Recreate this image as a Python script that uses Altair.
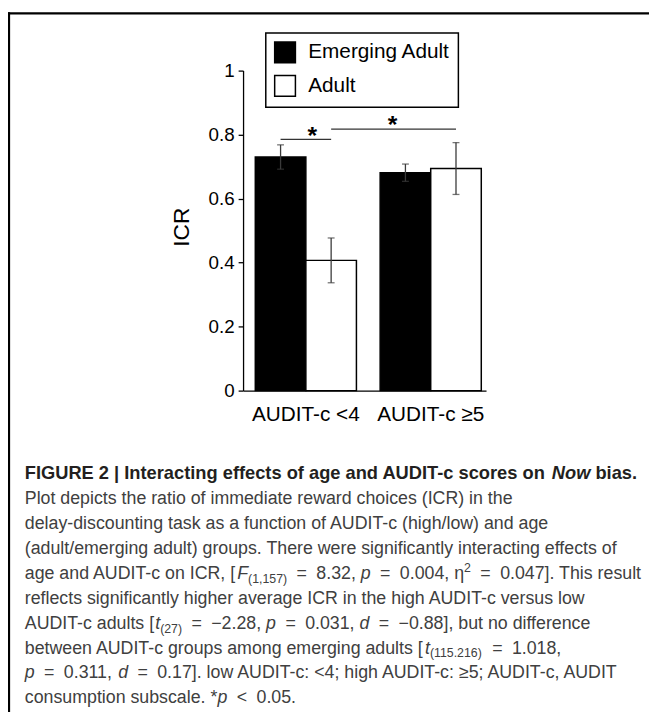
import re
import altair as alt
import pandas as pd

# ---------------- data ----------------
groups = ["AUDIT-c <4", "AUDIT-c ≥5"]
ages = ["Emerging Adult", "Adult"]
emerging_icr = [0.730, 0.681]
adult_icr = [0.407, 0.694]
emerging_err = [0.038, 0.027]
adult_err = [0.070, 0.081]
y_ticks = [0, 0.2, 0.4, 0.6, 0.8, 1]

# significance brackets (endpoints at bar centres)
bracket_id = ["b1", "b1", "b2", "b2"]
bracket_group = ["AUDIT-c <4", "AUDIT-c <4", "AUDIT-c <4", "AUDIT-c ≥5"]
bracket_age = ["Emerging Adult", "Adult", "Adult", "Adult"]
bracket_y = [0.785, 0.785, 0.817, 0.817]
star_group = ["AUDIT-c <4", "AUDIT-c ≥5"]
star_age = ["Adult", "Emerging Adult"]
star_y = [0.812, 0.845]

# caption: (text, style) runs; b=bold, bi=bold italic, n=normal, i=italic,
# sub=subscript, sup=superscript
caption_head = [("FIGURE 2 | Interacting effects of age and AUDIT-c scores on ", "b"),
                ("Now", "bi"), (" bias.", "b")]
caption_lines = [
    [("Plot depicts the ratio of immediate reward choices (ICR) in the", "n")],
    [("delay-discounting task as a function of AUDIT-c (high/low) and age", "n")],
    [("(adult/emerging adult) groups. There were significantly interacting effects of", "n")],
    [("age and AUDIT-c on ICR, [", "n"), ("F", "i"), ("(1,157)", "sub"),
     (" = 8.32, ", "n"), ("p", "i"), (" = 0.004, η", "n"), ("2", "sup"),
     (" = 0.047]. This result", "n")],
    [("reflects significantly higher average ICR in the high AUDIT-c versus low", "n")],
    [("AUDIT-c adults [", "n"), ("t", "i"), ("(27)", "sub"), (" = −2.28, ", "n"),
     ("p", "i"), (" = 0.031, ", "n"), ("d", "i"), (" = −0.88], but no difference", "n")],
    [("between AUDIT-c groups among emerging adults [", "n"), ("t", "i"),
     ("(115.216)", "sub"), (" = 1.018,", "n")],
    [("p", "i"), (" = 0.311, ", "n"), ("d", "i"),
     (" = 0.17]. low AUDIT-c: <4; high AUDIT-c: ≥5; AUDIT-c, AUDIT", "n")],
    [("consumption subscale. *", "n"), ("p", "i"), (" < 0.05.", "n")],
]

# ---------------- font metrics (Arial / Liberation Sans, per 1000 em) ----------
REG = {" ": 278, "!": 278, "(": 333, ")": 333, "*": 389, "+": 584, ",": 278, "-": 333,
       ".": 278, "/": 278, ":": 278, ";": 278, "<": 584, "=": 584, ">": 584, "[": 278,
       "]": 278, "|": 260, "−": 584, "η": 556, "≥": 549, "²": 333,
       "A": 667, "B": 667, "C": 722, "D": 722, "E": 667, "F": 611, "G": 778, "H": 722,
       "I": 278, "J": 500, "K": 667, "L": 556, "M": 833, "N": 722, "O": 778, "P": 667,
       "Q": 778, "R": 722, "S": 667, "T": 611, "U": 722, "V": 667, "W": 944, "X": 667,
       "Y": 667, "Z": 611,
       "a": 556, "b": 556, "c": 500, "d": 556, "e": 556, "f": 278, "g": 556, "h": 556,
       "i": 222, "j": 222, "k": 500, "l": 222, "m": 833, "n": 556, "o": 556, "p": 556,
       "q": 556, "r": 333, "s": 500, "t": 278, "u": 556, "v": 500, "w": 722, "x": 500,
       "y": 500, "z": 500}
BOLD = {" ": 278, "|": 280, "-": 333, ".": 278, "A": 722, "D": 722, "E": 667, "F": 611,
        "G": 778, "I": 278, "N": 722, "R": 722, "T": 611, "U": 722, "a": 556, "b": 611,
        "c": 556, "d": 611, "e": 556, "f": 333, "g": 611, "i": 278, "n": 611, "o": 611,
        "r": 389, "s": 556, "t": 333, "w": 778}


def width(s, size, table):
    return sum(table.get(ch, 556) for ch in s) * size / 1000.0


# ---------------- tables ----------------
rows = []
for i, g in enumerate(groups):
    for age, vals, errs in [("Emerging Adult", emerging_icr, emerging_err),
                            ("Adult", adult_icr, adult_err)]:
        rows.append({"group": g, "age": age, "icr": vals[i],
                     "lo": vals[i] - errs[i], "hi": vals[i] + errs[i]})
df = pd.DataFrame(rows)
bdf = pd.DataFrame({"bracket": bracket_id, "group": bracket_group,
                    "age": bracket_age, "y": bracket_y})
sdf = pd.DataFrame({"group": star_group, "age": star_age, "y": star_y,
                    "star": ["s1", "s2"]})
one = pd.DataFrame({"k": [1]})

# caption layout (pixels relative to the plot origin)
CAP_X0 = -221
HEAD_Y = 413
BODY_Y0 = 439
LINE_H = 25.2
HEAD_SIZE = 18.5
BODY_SIZE = 18
SMALL_SIZE = 12.5
REL_EXTRA = 9          # extra math spacing around "=" and "<"
style_size = {"b": HEAD_SIZE, "bi": HEAD_SIZE, "n": BODY_SIZE, "i": BODY_SIZE,
              "sub": SMALL_SIZE, "sup": SMALL_SIZE}
style_dy = {"b": 0, "bi": 0, "n": 0, "i": 0, "sub": 4, "sup": -7}

cap_rows = []


def lay_out(runs, y):
    x = CAP_X0
    for txt, sty in runs:
        size = style_size[sty]
        table = BOLD if sty in ("b", "bi") else REG
        pieces = re.split(r"( [=<] )", txt) if sty == "n" else [txt]
        for piece in pieces:
            if piece == "":
                continue
            if re.fullmatch(r" [=<] ", piece):
                adv = width(piece, size, table) + REL_EXTRA
                sym = piece.strip()
                cap_rows.append({"t": sym,
                                 "px": x + (adv - width(sym, size, table)) / 2,
                                 "py": y + style_dy[sty], "sty": sty})
                x += adv
                continue
            lead = len(piece) - len(piece.lstrip(" "))
            if piece.strip(" "):
                cap_rows.append({"t": piece.strip(" "),
                                 "px": x + width(" " * lead, size, table),
                                 "py": y + style_dy[sty], "sty": sty})
            x += width(piece, size, table)


lay_out(caption_head, HEAD_Y)
for li, runs in enumerate(caption_lines):
    lay_out(runs, BODY_Y0 + li * LINE_H)
capdf = pd.DataFrame(cap_rows)

FONT = "Liberation Sans"

x_main = alt.X("group:N", sort=groups, title=None,
               scale=alt.Scale(paddingInner=0.19, paddingOuter=0.068, align=0.72),
               axis=alt.Axis(labelAngle=0, ticks=False, labelPadding=13,
                             labelFontSize=21, labelFont=FONT, labelColor="black",
                             domainColor="black", domainWidth=1.3))
x_plain = alt.X("group:N", sort=groups, title=None)
xoff = alt.XOffset("age:N", sort=ages, scale=alt.Scale(paddingInner=0, paddingOuter=0))

y_main = alt.Y("icr:Q", title="ICR",
               scale=alt.Scale(domain=[0, 1], nice=False),
               axis=alt.Axis(values=y_ticks, format="~g", grid=False,
                             labelFontSize=19, labelFont=FONT, labelColor="black",
                             labelPadding=4, tickSize=5, tickColor="black",
                             tickWidth=1.3, domainColor="black", domainWidth=1.3,
                             titleFontSize=23, titleFont=FONT,
                             titleFontWeight="normal", titleColor="black",
                             titleX=-62, titleY=158, titleAngle=270,
                             titleBaseline="middle", titleAlign="center"))

color = alt.Color("age:N", sort=ages,
                  scale=alt.Scale(domain=ages, range=["black", "white"]),
                  legend=alt.Legend(title=None, orient="none", legendX=23, legendY=-38,
                                    direction="vertical", symbolType="square",
                                    symbolSize=441, symbolStrokeColor="black",
                                    symbolStrokeWidth=1.5, symbolOpacity=1,
                                    labelFontSize=21, labelFont=FONT,
                                    labelColor="black", rowPadding=7, padding=8,
                                    labelOffset=12, strokeColor="black"))

bars = alt.Chart(df).mark_bar(stroke="black", strokeWidth=1.5).encode(
    x=x_main, xOffset=xoff, y=y_main, color=color)

err_color = "#3a3a3a"
err_rule = alt.Chart(df).mark_rule(color=err_color, strokeWidth=1.3).encode(
    x=x_plain, xOffset=xoff, y=alt.Y("lo:Q", title="ICR"), y2="hi:Q")
cap_hi = alt.Chart(df).mark_tick(color=err_color, size=7, thickness=1.3).encode(
    x=x_plain, xOffset=xoff, y=alt.Y("hi:Q", title="ICR"))
cap_lo = alt.Chart(df).mark_tick(color=err_color, size=7, thickness=1.3).encode(
    x=x_plain, xOffset=xoff, y=alt.Y("lo:Q", title="ICR"))

brackets = alt.Chart(bdf).mark_line(color="#333333", strokeWidth=1.2).encode(
    x=x_plain, xOffset=xoff, y=alt.Y("y:Q", title="ICR"), detail="bracket:N")

star1 = alt.Chart(sdf).transform_filter(alt.datum.star == "s1").mark_text(
    text="*", fontSize=25, fontWeight="bold", font=FONT, color="black",
    baseline="alphabetic", dx=-19, dy=13).encode(
    x=x_plain, xOffset=xoff, y=alt.Y("y:Q", title="ICR"))
star2 = alt.Chart(sdf).transform_filter(alt.datum.star == "s2").mark_text(
    text="*", fontSize=25, fontWeight="bold", font=FONT, color="black",
    baseline="alphabetic", dx=-13, dy=13).encode(
    x=x_plain, xOffset=xoff, y=alt.Y("y:Q", title="ICR"))

# figure frame (top and left borders)
top_border = alt.Chart(one).mark_rule(color="black", strokeWidth=2.3).encode(
    x=alt.value(-238), x2=alt.value(411), y=alt.value(-58))
left_border = alt.Chart(one).mark_rule(color="black", strokeWidth=2.3).encode(
    x=alt.value(-237), y=alt.value(-59), y2=alt.value(650))


def cap_layer(sty, **props):
    return alt.Chart(capdf).transform_filter(alt.datum.sty == sty).mark_text(
        align="left", baseline="alphabetic", font=FONT, **props).encode(
        x=alt.X("px:Q", scale=None), y=alt.Y("py:Q", scale=None), text="t:N")


cap_layers = [
    cap_layer("b", fontSize=HEAD_SIZE, fontWeight="bold", color="#231f20"),
    cap_layer("bi", fontSize=HEAD_SIZE, fontWeight="bold", fontStyle="italic",
              color="#231f20"),
    cap_layer("n", fontSize=BODY_SIZE, color="#404040"),
    cap_layer("i", fontSize=BODY_SIZE, fontStyle="italic", color="#404040"),
    cap_layer("sub", fontSize=SMALL_SIZE, color="#404040"),
    cap_layer("sup", fontSize=SMALL_SIZE, color="#404040"),
]

chart = alt.layer(
    bars, err_rule, cap_hi, cap_lo, brackets, star1, star2,
    top_border, left_border, *cap_layers
).properties(
    width=246, height=324,
    padding={"left": 238, "top": 59, "right": 165, "bottom": 321},
    autosize=alt.AutoSizeParams(type="none"),
).configure_view(stroke=None).configure_legend(strokeWidth=1.5)

chart.save("out.html", embed_options={"renderer": "svg", "actions": False})
